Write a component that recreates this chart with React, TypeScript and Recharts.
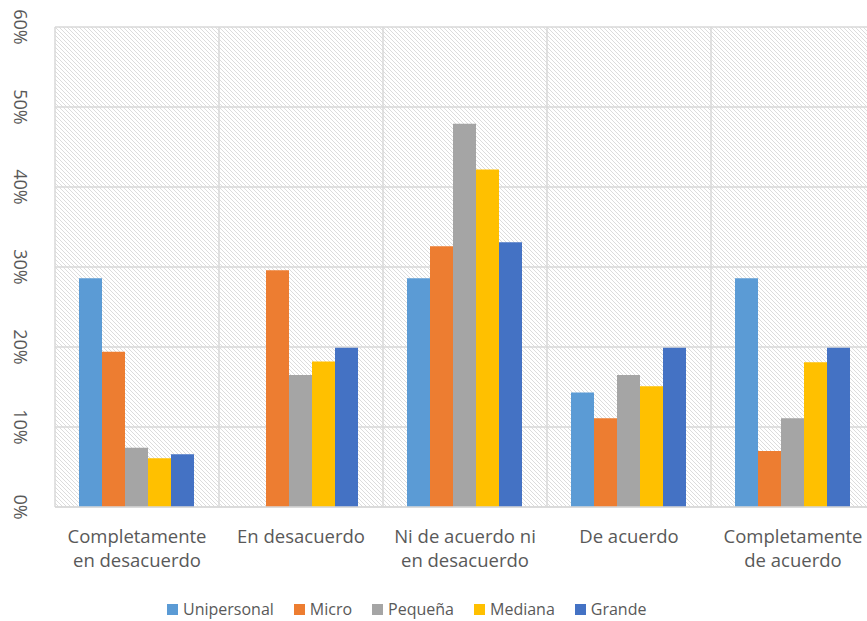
import { BarChart, Bar, XAxis, YAxis, CartesianGrid, Legend } from 'recharts';

const categories = [
  'Completamente\nen desacuerdo',
  'En desacuerdo',
  'Ni de acuerdo ni\nen desacuerdo',
  'De acuerdo',
  'Completamente\nde acuerdo',
];

const unipersonal = [28.6, 0, 28.6, 14.3, 28.6];
const micro = [19.4, 29.6, 32.6, 11.1, 7.0];
const pequena = [7.4, 16.5, 47.9, 16.5, 11.1];
const mediana = [6.1, 18.2, 42.2, 15.1, 18.1];
const grande = [6.6, 19.9, 33.1, 19.9, 19.9];

const yTicks = [0, 10, 20, 30, 40, 50, 60];

const series = [
  { key: 'unipersonal', name: 'Unipersonal', color: '#5b9bd5' },
  { key: 'micro', name: 'Micro', color: '#ed7d31' },
  { key: 'pequena', name: 'Pequeña', color: '#a5a5a5' },
  { key: 'mediana', name: 'Mediana', color: '#ffc000' },
  { key: 'grande', name: 'Grande', color: '#4472c4' },
];

const data = categories.map((label, i) => ({
  label,
  unipersonal: unipersonal[i],
  micro: micro[i],
  pequena: pequena[i],
  mediana: mediana[i],
  grande: grande[i],
}));

const FONT = '"Open Sans", "Noto Sans", sans-serif';
const TEXT = '#595959';
const GRID = '#d9d9d9';

// y labels are turned a quarter clockwise, read top to bottom
function YTick({ y, payload }: any) {
  const cx = 21;
  return (
    <text
      x={cx}
      y={y}
      transform={`rotate(90, ${cx}, ${y})`}
      textAnchor="middle"
      dominantBaseline="central"
      fill={TEXT}
      fontSize={18}
      fontFamily={FONT}
    >
      {`${payload.value}%`}
    </text>
  );
}

function XTick({ x, y, payload }: any) {
  const lines = String(payload.value).split('\n');
  return (
    <text x={x} y={y} textAnchor="middle" fill={TEXT} fontSize={18.5} fontFamily={FONT}>
      {lines.map((line, i) => (
        <tspan key={i} x={x} dy={i === 0 ? 28 : 24}>
          {line}
        </tspan>
      ))}
    </text>
  );
}

function LegendContent() {
  return (
    <div style={{ display: 'flex', alignItems: 'center', gap: 20, fontFamily: FONT, fontSize: 16, color: TEXT }}>
      {series.map((s) => (
        <div key={s.key} style={{ display: 'flex', alignItems: 'center', gap: 5 }}>
          <span style={{ width: 11, height: 11, background: s.color, display: 'inline-block' }} />
          <span>{s.name}</span>
        </div>
      ))}
    </div>
  );
}

export default function App() {
  return (
    <div style={{ position: 'fixed', left: 0, top: 0, width: 867, height: 621, overflow: 'hidden', background: '#fff' }}>
      <svg width={0} height={0} style={{ position: 'absolute' }}>
        <defs>
          <pattern id="hatch" patternUnits="userSpaceOnUse" width={4} height={4}>
            <rect width={4} height={4} fill="#ffffff" />
            <path d="M-1,-1 L5,5 M-1,3 L1,5 M3,-1 L5,1" stroke="#dcdcdc" strokeWidth={1} />
          </pattern>
        </defs>
      </svg>
      <BarChart
        width={875}
        height={621}
        data={data}
        margin={{ top: 27, right: 0, left: 0, bottom: 0 }}
        barCategoryGap={24}
        barGap={0}
      >
        <CartesianGrid
          fill="url(#hatch)"
          fillOpacity={1}
          stroke={GRID}
          strokeWidth={1.5}
          verticalCoordinatesGenerator={({ offset }: any) =>
            categories.map((_, i) => offset.left + (i * offset.width) / categories.length).concat(offset.left + offset.width)
          }
        />
        <XAxis
          dataKey="label"
          height={114}
          interval={0}
          axisLine={{ stroke: GRID, strokeWidth: 1.5 }}
          tickLine={false}
          tick={<XTick />}
        />
        <YAxis
          width={55}
          domain={[0, 60]}
          ticks={yTicks}
          axisLine={false}
          tickLine={false}
          tick={<YTick />}
        />
        {series.map((s) => (
          <Bar key={s.key} dataKey={s.key} name={s.name} fill={s.color} isAnimationActive={false} />
        ))}
        <Legend
          layout="horizontal"
          verticalAlign="middle"
          align="center"
          wrapperStyle={{ top: 598, left: 167, width: 520 }}
          content={<LegendContent />}
        />
      </BarChart>
    </div>
  );
}
